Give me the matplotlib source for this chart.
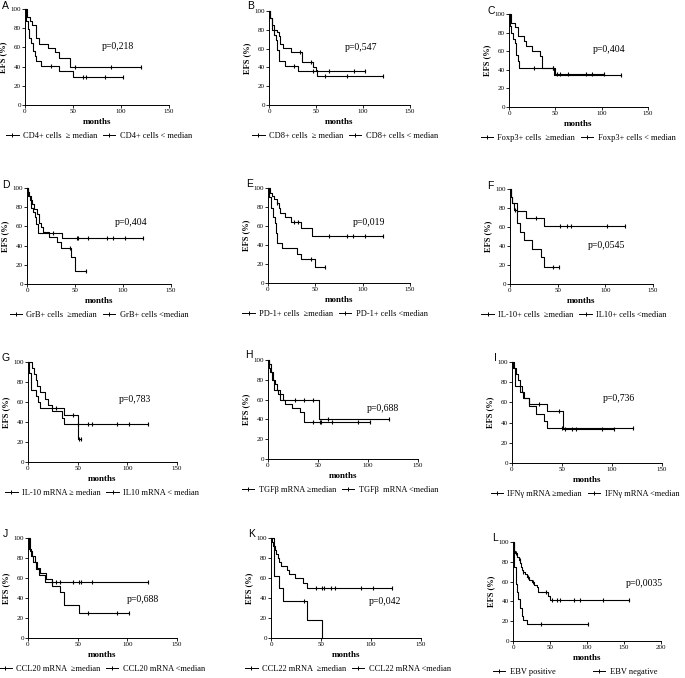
import numpy as np
import matplotlib
matplotlib.use('Agg')
import matplotlib.pyplot as plt
from matplotlib.lines import Line2D

plt.rcParams['font.family'] = ['Liberation Serif', 'DejaVu Serif']

# step data: event times, survival after the event, censor times
A_hi_t = [2, 5, 7, 11, 15, 24, 31, 35, 47]
A_hi_s = [92, 87, 83, 70, 64, 59, 55, 49, 40]
A_hi_c = [52, 90, 121]
A_lo_t = [1, 3, 4, 6, 8, 10, 11, 17, 35, 50]
A_lo_s = [87, 79, 70, 65, 56, 51, 46, 41, 35, 29]
A_lo_c = [27, 60, 64, 83, 102]

B_hi_t = [1, 3, 5, 8, 11, 12, 15, 23, 35, 47, 50, 51]
B_hi_s = [93, 85, 80, 78, 73, 65, 61, 56, 46, 40, 37, 31]
B_hi_c = [33, 45, 60, 83, 121]
B_lo_t = [1, 3, 5, 7, 8, 11, 17, 31]
B_lo_s = [93, 80, 74, 69, 58, 47, 42, 36]
B_lo_c = [27, 47, 64, 90, 102]

C_hi_t = [2, 7, 10, 16, 18, 25, 33, 36, 49]
C_hi_s = [90, 86, 76, 71, 66, 60, 55, 42, 34]
C_hi_c = [47, 121]
C_lo_t = [1, 2, 4, 6, 8, 10, 11, 50]
C_lo_s = [87, 80, 73, 69, 56, 49, 42, 35]
C_lo_c = [27, 47, 52, 55, 64, 83, 90, 102]

D_hi_t = [1, 2, 4, 6, 8, 9, 11, 36]
D_hi_s = [96, 92, 79, 75, 70, 62, 53, 48]
D_hi_c = [27, 52, 53, 64, 83, 90, 102, 121]
D_lo_t = [1, 3, 5, 7, 10, 12, 15, 17, 23, 31, 35, 46, 50]
D_lo_s = [92, 88, 83, 78, 73, 64, 59, 54, 49, 44, 38, 28, 14]
D_lo_c = [45, 61]

E_hi_t = [2, 4, 6, 9, 12, 13, 18, 24, 35, 47]
E_hi_s = [95, 92, 88, 84, 79, 74, 69, 64, 58, 49]
E_hi_c = [10, 27, 32, 64, 83, 90, 102, 121]
E_lo_t = [1, 3, 5, 7, 8, 10, 15, 31, 35, 50]
E_lo_s = [90, 79, 69, 63, 53, 42, 37, 31, 25, 17]
E_lo_c = [45, 60]

F_hi_t = [1, 2, 7, 17, 36]
F_hi_s = [92, 85, 77, 69, 61]
F_hi_c = [27, 52, 60, 64, 102, 121]
F_lo_t = [1, 2, 4, 7, 10, 15, 23, 32, 36]
F_lo_s = [92, 85, 78, 64, 55, 46, 37, 28, 18]
F_lo_c = [5, 45, 51]

G_hi_t = [4, 6, 8, 9, 12, 17, 20, 24, 36, 50]
G_hi_s = [94, 88, 82, 76, 70, 63, 57, 54, 47, 23]
G_hi_c = [28, 45, 51, 53]
G_lo_t = [1, 3, 8, 10, 12, 24, 34, 36]
G_lo_s = [89, 72, 66, 60, 54, 51, 44, 38]
G_lo_c = [50, 60, 64, 90, 102, 121]

H_hi_t = [1, 3, 5, 7, 9, 12, 15, 51]
H_hi_s = [96, 88, 80, 76, 70, 66, 60, 40]
H_hi_c = [27, 36, 45, 60, 121]
H_lo_t = [1, 2, 4, 6, 10, 12, 17, 24, 32, 36]
H_lo_s = [92, 88, 80, 70, 66, 60, 56, 52, 47, 37]
H_lo_c = [45, 52, 53, 64, 90, 102]

I_hi_t = [2, 4, 6, 8, 10, 12, 17, 35, 51]
I_hi_s = [94, 88, 82, 76, 70, 64, 58, 51, 34]
I_hi_c = [27, 47, 53, 60, 64, 90, 102]
I_lo_t = [1, 3, 8, 11, 17, 24, 32, 35]
I_lo_s = [94, 76, 70, 64, 56, 49, 42, 35]
I_lo_c = [50, 121]

J_hi_t = [1, 3, 5, 8, 11, 17]
J_hi_s = [89, 82, 76, 69, 63, 56]
J_hi_c = [24, 28, 32, 45, 51, 53, 64, 121]
J_lo_t = [2, 4, 7, 9, 12, 18, 24, 32, 36, 51]
J_lo_s = [87, 82, 76, 70, 65, 59, 52, 46, 33, 25]
J_lo_c = [60, 90, 102]

K_hi_t = [1, 2, 4, 5, 7, 8, 10, 16, 18, 24, 32, 36]
K_hi_s = [96, 92, 88, 84, 80, 76, 72, 68, 64, 60, 55, 50]
K_hi_c = [45, 51, 53, 60, 64, 90, 102, 121]
K_lo_t = [3, 8, 12, 36, 51]
K_lo_s = [62, 50, 37, 18, 0]
K_lo_c = [33]

L_hi_t = [1, 2, 4, 6, 7, 10, 12, 14, 19]
L_hi_s = [92, 75, 58, 50, 42, 33, 25, 21, 17]
L_hi_c = [38, 102]
L_lo_t = [1, 2, 3, 5, 6, 8, 10, 11, 12, 13, 16, 19, 22, 25, 28, 32, 34, 47, 50]
L_lo_s = [95, 91, 89, 87, 85, 82, 79, 75, 72, 70, 68, 65, 62, 60, 57, 55, 49, 45, 41]
L_lo_c = [4, 9, 14, 20, 27, 45, 53, 60, 64, 83, 90, 121, 157]

letters = ['A', 'B', 'C', 'D', 'E', 'F', 'G', 'H', 'I', 'J', 'K', 'L']
pvalues = ['p=0,218', 'p=0,547', 'p=0,404', 'p=0,404', 'p=0,019', 'p=0,0545',
           'p=0,783', 'p=0,688', 'p=0,736', 'p=0,688', 'p=0,042', 'p=0,0035']
leg_hi = ['CD4+ cells  \u2265 median', 'CD8+ cells  \u2265 median', 'Foxp3+ cells  \u2265median',
          'GrB+ cells  \u2265median', 'PD-1+ cells  \u2265median', 'IL-10+ cells  \u2265median',
          'IL-10 mRNA \u2265 median', 'TGF\u03b2 mRNA \u2265median', 'IFN\u03b3 mRNA \u2265median',
          'CCL20 mRNA  \u2265median', 'CCL22 mRNA  \u2265median', 'EBV positive']
leg_lo = ['CD4+ cells < median', 'CD8+ cells < median', 'Foxp3+ cells < median',
          'GrB+ cells <median', 'PD-1+ cells <median', 'IL10+ cells <median',
          'IL10 mRNA < median', 'TGF\u03b2  mRNA <median', 'IFN\u03b3 mRNA <median',
          'CCL20 mRNA <median', 'CCL22 mRNA <median', 'EBV negative']

data = {
    'A': (A_hi_t, A_hi_s, A_hi_c, A_lo_t, A_lo_s, A_lo_c),
    'B': (B_hi_t, B_hi_s, B_hi_c, B_lo_t, B_lo_s, B_lo_c),
    'C': (C_hi_t, C_hi_s, C_hi_c, C_lo_t, C_lo_s, C_lo_c),
    'D': (D_hi_t, D_hi_s, D_hi_c, D_lo_t, D_lo_s, D_lo_c),
    'E': (E_hi_t, E_hi_s, E_hi_c, E_lo_t, E_lo_s, E_lo_c),
    'F': (F_hi_t, F_hi_s, F_hi_c, F_lo_t, F_lo_s, F_lo_c),
    'G': (G_hi_t, G_hi_s, G_hi_c, G_lo_t, G_lo_s, G_lo_c),
    'H': (H_hi_t, H_hi_s, H_hi_c, H_lo_t, H_lo_s, H_lo_c),
    'I': (I_hi_t, I_hi_s, I_hi_c, I_lo_t, I_lo_s, I_lo_c),
    'J': (J_hi_t, J_hi_s, J_hi_c, J_lo_t, J_lo_s, J_lo_c),
    'K': (K_hi_t, K_hi_s, K_hi_c, K_lo_t, K_lo_s, K_lo_c),
    'L': (L_hi_t, L_hi_s, L_hi_c, L_lo_t, L_lo_s, L_lo_c),
}

# p-value text position in data units
p_pos = [(80, 61), (81, 61), (90, 62), (91, 64), (90, 64), (82, 41),
         (91, 63), (99, 51), (91, 64), (99, 38), (98, 37), (152, 58)]

# axes boxes in pixels: left, top, right, bottom
W, H = 685, 678
boxes = [(25, 9, 169, 105), (269, 11, 410, 105), (509, 14, 648, 107),
         (27, 188, 171, 284), (268, 188, 410, 283), (510, 189, 653, 284),
         (28, 362, 177, 462), (268, 360, 418, 459), (512, 362, 662, 463),
         (28, 538, 177, 638), (271, 538, 421, 638), (513, 542, 661, 641)]
letter_pos = [(2, 6), (247, 6), (487, 11), (2, 185), (246, 184), (487, 186),
              (2, 358), (245, 355), (494, 358), (3, 534), (248, 534), (492, 538)]
# legend centre x in pixels and column spacing
leg_x = [99, 345, 578, 99, 335, 574, 102, 340, 585, 102, 348, 575]


def km(ax, t, s, cens):
    end = max([t[-1]] + list(cens))
    x = [0] + list(t) + [end]
    y = [100] + list(s) + [s[-1]]
    ax.plot(x, y, drawstyle='steps-post', color='k', lw=0.8, clip_on=False)
    tt = np.array([0] + list(t))
    ss = np.array([100] + list(s))
    cy = [ss[np.searchsorted(tt, c, side='right') - 1] for c in cens]
    ax.plot(cens, cy, ls='none', marker='|', ms=3, mew=0.8, color='k', clip_on=False)


fig = plt.figure(figsize=(W / 100, H / 100), dpi=100)

for i, key in enumerate(letters):
    l, t, r, b = boxes[i]
    ax = fig.add_axes([l / W, 1 - b / H, (r - l) / W, (b - t) / H])
    hi_t, hi_s, hi_c, lo_t, lo_s, lo_c = data[key]
    km(ax, hi_t, hi_s, hi_c)
    km(ax, lo_t, lo_s, lo_c)

    xmax = 200 if key == 'L' else 150
    ax.set_xlim(0, xmax)
    ax.set_ylim(0, 100)
    ax.set_xticks(np.arange(0, xmax + 1, 50))
    ax.set_yticks(np.arange(0, 101, 20))
    for sp in ['top', 'right']:
        ax.spines[sp].set_visible(False)
    for sp in ['left', 'bottom']:
        ax.spines[sp].set_linewidth(0.7)
    ax.tick_params(length=2, width=0.6, labelsize=5, pad=1)
    ax.set_xlabel('months', fontweight='bold', fontsize=6.5, labelpad=3)
    ax.set_ylabel('EFS (%)', fontweight='bold', fontsize=6, labelpad=2)

    px, py = p_pos[i]
    ax.text(px, py, pvalues[i], fontsize=7, va='center', ha='left')

    h = [Line2D([0], [0], color='k', lw=0.7, marker='|', ms=3, mew=0.7) for _ in range(2)]
    fig.legend(h, [leg_hi[i], leg_lo[i]], loc='center', bbox_to_anchor=(leg_x[i] / W, 1 - (b + 31) / H),
               ncol=2, frameon=False, fontsize=6, handlelength=1.5, handletextpad=0.5,
               columnspacing=4.5 if key == 'L' else 0.7, borderpad=0, borderaxespad=0)

    lx, ly = letter_pos[i]
    fig.text(lx / W, 1 - ly / H, key, fontsize=7.5, family='Liberation Sans', va='center', ha='left')

fig.savefig('out.png', dpi=100)
